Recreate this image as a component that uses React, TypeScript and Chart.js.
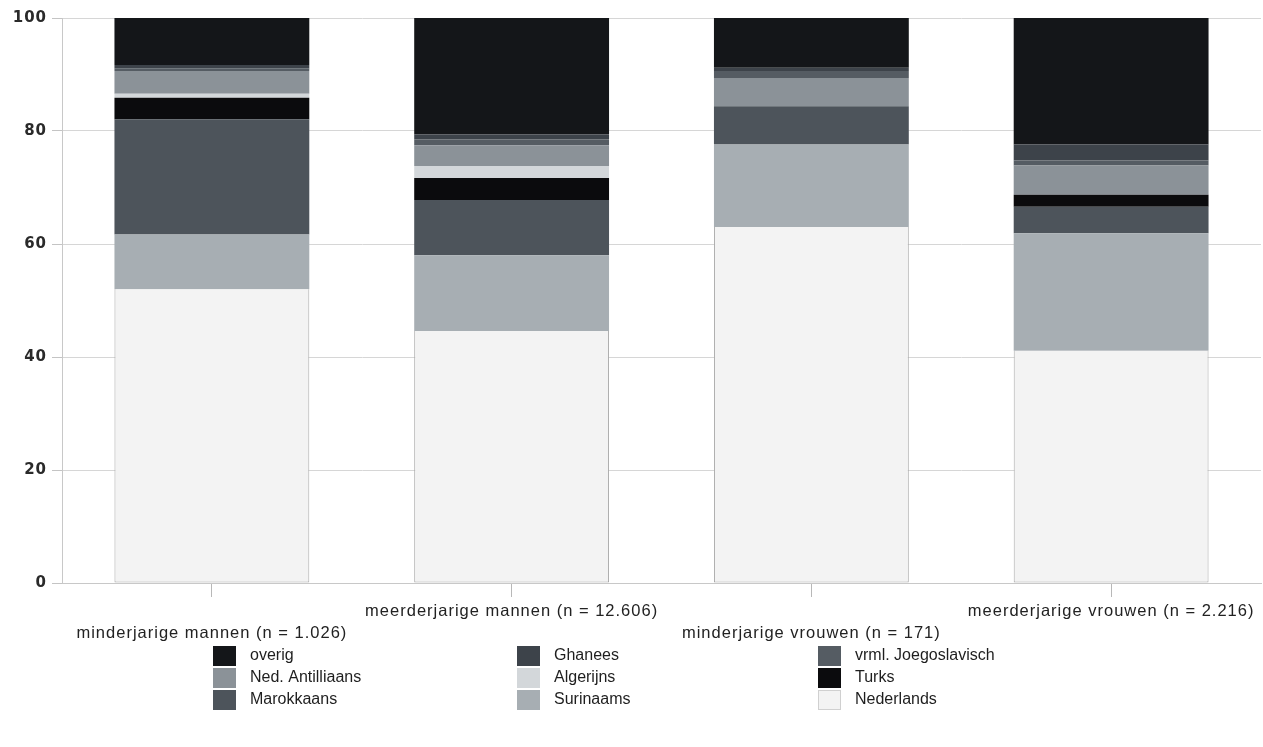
import React, { useEffect, useRef } from 'react';
import { Chart, registerables } from 'chart.js';

Chart.register(...registerables);

// Categories (x axis)
const categories = [
  'minderjarige mannen (n = 1.026)',
  'meerderjarige mannen (n = 12.606)',
  'minderjarige vrouwen (n = 171)',
  'meerderjarige vrouwen (n = 2.216)',
];

// Series values (percent), stacked bottom -> top
const nederlands = [52.0, 44.6, 63.0, 41.1];
const surinaams = [9.7, 13.4, 14.6, 20.8];
const marokkaans = [20.4, 9.8, 6.8, 4.7];
const turks = [3.8, 3.9, 0, 2.1];
const algerijns = [0.7, 2.1, 0, 0];
const nedAntilliaans = [4.0, 3.7, 5.0, 5.2];
const joegoslavisch = [0.5, 1.0, 1.2, 0.9];
const ghanees = [0.6, 0.9, 0.6, 2.8];
const overig = [8.3, 20.6, 8.8, 22.4];

// Y tick labels
const yTicks = [0, 20, 40, 60, 80, 100];

// Legend layout (columns)
const legendColumns = [
  ['overig', 'Ned. Antilliaans', 'Marokkaans'],
  ['Ghanees', 'Algerijns', 'Surinaams'],
  ['vrml. Joegoslavisch', 'Turks', 'Nederlands'],
];

export default function App() {
  const ref = useRef<HTMLCanvasElement>(null);

  useEffect(() => {
    document.body.style.margin = '0';
    const canvas = ref.current;
    if (!canvas) return;

    const spacingPlugin = {
      id: 'spacing',
      beforeDraw(chart: any) {
        chart.ctx.letterSpacing = '1px';
      },
      beforeDatasetsDraw(chart: any) {
        chart.ctx.letterSpacing = '0px';
      },
    };

    const legendPlugin = {
      id: 'gridLegend',
      afterDraw(chart: any) {
        const ctx = chart.ctx;
        ctx.save();
        ctx.letterSpacing = '0px';
        const colX = [213, 517, 818];
        const rowY = [656, 678, 700];
        legendColumns.forEach((col, ci) => {
          col.forEach((name, ri) => {
            const ds = chart.data.datasets.find((d: any) => d.label === name);
            if (!ds) return;
            ctx.fillStyle = ds.backgroundColor;
            ctx.fillRect(colX[ci], rowY[ri] - 10, 23, 20);
            if (name === 'Nederlands') {
              ctx.strokeStyle = '#d0d0d0';
              ctx.lineWidth = 1;
              ctx.strokeRect(colX[ci] + 0.5, rowY[ri] - 9.5, 22, 19);
            }
            ctx.fillStyle = '#1e1e1e';
            ctx.font = '16px "Liberation Sans", Arial, sans-serif';
            ctx.textBaseline = 'middle';
            ctx.textAlign = 'left';
            ctx.fillText(name, colX[ci] + 37, rowY[ri]);
          });
        });
        ctx.restore();
      },
    };

    const chart = new Chart(canvas, {
      type: 'bar',
      data: {
        labels: categories,
        datasets: [
          { label: 'Nederlands', data: nederlands, backgroundColor: '#f3f3f3', borderColor: '#a8a8a8', borderWidth: { left: 1, right: 1, bottom: 1, top: 0 }, borderSkipped: false },
          { label: 'Surinaams', data: surinaams, backgroundColor: '#a7aeb3' },
          { label: 'Marokkaans', data: marokkaans, backgroundColor: '#4d545b' },
          { label: 'Turks', data: turks, backgroundColor: '#0b0b0d' },
          { label: 'Algerijns', data: algerijns, backgroundColor: '#d3d7da' },
          { label: 'Ned. Antilliaans', data: nedAntilliaans, backgroundColor: '#8b9298' },
          { label: 'vrml. Joegoslavisch', data: joegoslavisch, backgroundColor: '#555c63' },
          { label: 'Ghanees', data: ghanees, backgroundColor: '#3d434a' },
          { label: 'overig', data: overig, backgroundColor: '#141619' },
        ] as any,
      },
      options: {
        animation: false,
        responsive: true,
        maintainAspectRatio: false,
        layout: { padding: { top: 18, right: 2, bottom: 104, left: 0 } },
        datasets: {
          bar: { categoryPercentage: 1, barPercentage: 0.65 },
        } as any,
        plugins: {
          legend: { display: false },
          tooltip: { enabled: false },
          title: { display: false },
        },
        scales: {
          x: {
            stacked: true,
            grid: {
              display: true,
              drawOnChartArea: false,
              offset: false,
              tickLength: 14,
              color: '#b8b8b8',
            },
            border: { display: true, color: '#c8c8c8' },
            ticks: {
              autoSkip: false,
              maxRotation: 0,
              minRotation: 0,
              padding: 3,
              color: '#222',
              font: { family: '"Liberation Sans", Arial, sans-serif', size: 16.5, lineHeight: 1.35 },
              callback: (_v: any, i: number) => (i % 2 === 0 ? ['', categories[i]] : [categories[i]]),
            },
            afterFit: (scale: any) => {
              scale.height = 60;
            },
          },
          y: {
            stacked: true,
            min: 0,
            max: 100,
            afterBuildTicks: (scale: any) => {
              scale.ticks = yTicks.map((v) => ({ value: v }));
            },
            grid: { color: '#d6d6d6', tickLength: 10, tickColor: '#c4c4c4' },
            border: { display: true, color: '#c8c8c8' },
            ticks: {
              padding: 5,
              color: '#2a2a2a',
              font: { family: '"DejaVu Sans", sans-serif', size: 15, weight: 'bold' },
            },
            afterFit: (scale: any) => {
              scale.width = 62;
            },
          },
        },
      },
      plugins: [spacingPlugin, legendPlugin],
    });

    return () => chart.destroy();
  }, []);

  return (
    <div style={{ position: 'relative', width: 1263, height: 747 }}>
      <canvas ref={ref} />
    </div>
  );
}
